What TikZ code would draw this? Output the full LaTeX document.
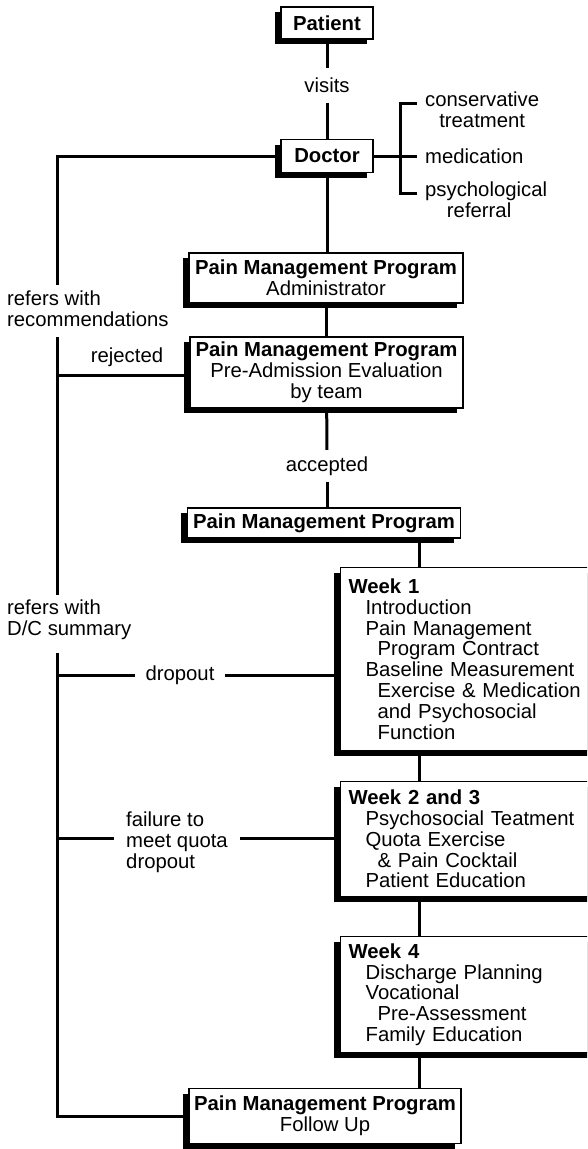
\documentclass[tikz,border=0pt]{standalone}
\usepackage{fontspec}
\setmainfont{Liberation Sans}
\usetikzlibrary{shadows}
\begin{document}
\begin{tikzpicture}[x=1pt,y=-1pt,
  every node/.style={font=\fontsize{20.3}{20.8}\selectfont, inner sep=0pt},
  conn/.style={line width=3pt},
  box/.style={draw, line width=1.2pt, fill=white,
    drop shadow={shadow xshift=-6.5pt, shadow yshift=-5pt, opacity=1, fill=black}},
  weekbox/.style={box, anchor=north west, minimum width=286, text width=270, align=left},
  lbl/.style={align=left}
]
\useasboundingbox (0,0) rectangle (587,1149);
\clip (0,0) rectangle (587,1149);

% boxes
\node[box, minimum width=92, minimum height=32] (patient) at (327,23) {\bfseries Patient};
\node[box, minimum width=92, minimum height=33] (doctor) at (327,156) {\bfseries Doctor};
\node[box, minimum width=274, minimum height=50, align=center] (admin) at (326,278)
  {{\bfseries Pain Management Program}\\Administrator};
\node[box, minimum width=273, minimum height=71, align=center] (preadm) at (326.5,372.5)
  {{\bfseries Pain Management Program}\\Pre-Admission Evaluation\\by team};
\node[box, minimum width=273, minimum height=30] (pmp) at (324,523)
  {\bfseries Pain Management Program};
\node[weekbox, minimum height=183] (week1) at (340,567)
  {{\bfseries Week 1}\\
   \hspace*{17pt}Introduction\\
   \hspace*{17pt}Pain Management\\
   \hspace*{29pt}Program Contract\\
   \hspace*{17pt}Baseline Measurement\\
   \hspace*{29pt}Exercise \& Medication\\
   \hspace*{29pt}and Psychosocial\\
   \hspace*{29pt}Function};
\node[weekbox, minimum height=115] (week2) at (340,781)
  {{\bfseries Week 2 and 3}\\
   \hspace*{17pt}Psychosocial Teatment\\
   \hspace*{17pt}Quota Exercise\\
   \hspace*{29pt}\& Pain Cocktail\\
   \hspace*{17pt}Patient Education};
\node[weekbox, minimum height=116] (week4) at (340,936)
  {{\bfseries Week 4}\\
   \hspace*{17pt}Discharge Planning\\
   \hspace*{17pt}Vocational\\
   \hspace*{29pt}Pre-Assessment\\
   \hspace*{17pt}Family Education};
\node[box, minimum width=272, minimum height=55, align=center] (followup) at (325,1116)
  {{\bfseries Pain Management Program}\\Follow Up};

% labels
\node[minimum height=35] (visits) at (327,85.5) {visits};
\node[minimum height=32] (accepted) at (327,466) {accepted};
\node[lbl, anchor=west] (refrec) at (7,309) {refers with\\recommendations};
\node[lbl, anchor=west] (refdc) at (7,619.5) {refers with\\D/C summary};
\node (rejected) at (127,357) {rejected};
\node[minimum width=90] (drop) at (180,675) {dropout};
\node[lbl, inner xsep=12pt] (fail) at (177,842.5) {failure to\\meet quota\\dropout};
\node[align=center, anchor=west, inner xsep=8pt] (cons) at (417,110) {conservative\\treatment};
\node[anchor=west, inner xsep=8pt] (med) at (417,156) {medication};
\node[align=center, anchor=west, inner xsep=8pt] (psy) at (417,200) {psychological\\\hspace*{-14pt}referral};

% coordinates
\coordinate (xl) at (57,0);
\coordinate (xw) at (419,0);
\coordinate (g1a) at (57,285);
\coordinate (g1b) at (57,337);
\coordinate (g2a) at (57,595);
\coordinate (g2b) at (57,653);
\coordinate (bl) at (57,1116);
\coordinate (r) at (57,375);
\coordinate (d) at (57,675);
\coordinate (f) at (57,838);
\coordinate (bt) at (400,103);
\coordinate (bb) at (400,193);

% main chain
\draw[conn] (patient) -- (visits);
\draw[conn] (visits) -- (doctor);
\draw[conn] (doctor) -- (doctor.south |- admin.north);
\draw[conn] (admin) -- (admin.south |- preadm.north);
\draw[conn] (preadm) -- (accepted);
\draw[conn] (accepted) -- (accepted |- pmp.north);
\draw[conn] (pmp.south -| xw) -- (week1.north -| xw);
\draw[conn] (week1.south -| xw) -- (week2.north -| xw);
\draw[conn] (week2.south -| xw) -- (week4.north -| xw);
\draw[conn] (week4.south -| xw) -- (followup.north -| xw);

% right bracket
\draw[conn] (doctor.east) -- (med.west);
\draw[conn] (bt -| cons.west) -- (bt) -- (bb) -- (bb -| psy.west);

% left trunk
\draw[conn] (doctor.west) -| (g1a);
\draw[conn] (g1b) -- (g2a);
\draw[conn] (g2b) -- (bl) -- (followup.west);
\draw[conn] (r) -- (r -| preadm.west);
\draw[conn] (d) -- (d -| drop.west);
\draw[conn] (d -| drop.east) -- (d -| week1.west);
\draw[conn] (f) -- (f -| fail.west);
\draw[conn] (f -| fail.east) -- (f -| week2.west);
\end{tikzpicture}
\end{document}
